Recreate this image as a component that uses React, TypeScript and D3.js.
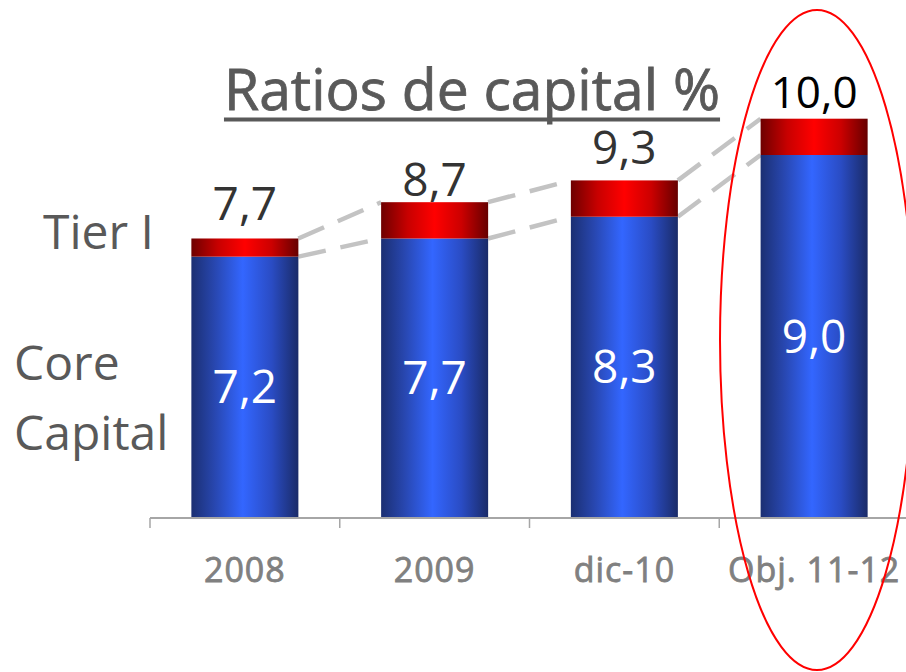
import React, { useLayoutEffect, useRef, useState } from "react";
import * as d3 from "d3";

// ---- data ----
const categories = ["2008", "2009", "dic-10", "Obj. 11-12"];
const coreCapital = [7.2, 7.7, 8.3, 9.0];
const tierOne = [7.7, 8.7, 9.3, 10.0];
// heights at which the bars are drawn in the reference (objective bar drawn taller)
const coreDrawn = [7.2, 7.7, 8.3, 10.0];
const tierDrawn = [7.7, 8.7, 9.3, 11.0];
const coreLabels = ["7,2", "7,7", "8,3", "9,0"];
const tierLabels = ["7,7", "8,7", "9,3", "10,0"];
const titleText = "Ratios de capital %";
const sideLabels = { tier: "Tier I", core: ["Core", "Capital"] };

// ---- layout ----
const W = 906;
const H = 672;
const FONT = "'Open Sans', 'DejaVu Sans', sans-serif";
const topLabelGap = [18, 6, 16, 11];

export default function App() {
  const titleRef = useRef<SVGTextElement>(null);
  const [tw, setTw] = useState(498);
  useLayoutEffect(() => {
    if (titleRef.current) setTw(titleRef.current.getComputedTextLength());
  }, []);

  const x = d3
    .scaleBand<string>()
    .domain(categories)
    .range([150, 909])
    .paddingInner(0.436)
    .paddingOuter(0.218);
  const y = d3.scaleLinear().domain([0, 10]).range([518, 155]);
  const bw = x.bandwidth();
  const step = x.step();
  const axisStart = x.range()[0];
  const ticks = d3.range(categories.length + 1).map((i) => axisStart + i * step);

  const titleX = 472;
  const titleY = 110;

  return (
    <svg
      width={W}
      height={H}
      style={{ position: "absolute", left: 0, top: 0, background: "#fff" }}
      fontFamily={FONT}
    >
      <defs>
        <linearGradient id="blueGrad" x1="0" x2="1" y1="0" y2="0">
          <stop offset="0%" stopColor="#1b2f72" />
          <stop offset="22%" stopColor="#2847b0" />
          <stop offset="48%" stopColor="#3366ff" />
          <stop offset="75%" stopColor="#2a4cc4" />
          <stop offset="100%" stopColor="#1a2b68" />
        </linearGradient>
        <linearGradient id="redGrad" x1="0" x2="1" y1="0" y2="0">
          <stop offset="0%" stopColor="#6e0000" />
          <stop offset="25%" stopColor="#c80000" />
          <stop offset="50%" stopColor="#ff0000" />
          <stop offset="75%" stopColor="#cc0000" />
          <stop offset="100%" stopColor="#660000" />
        </linearGradient>
      </defs>

      {/* title */}
      <text
        ref={titleRef}
        x={titleX}
        y={titleY}
        textAnchor="middle"
        fontSize={57}
        fill="#595959"
        stroke="#595959"
        strokeWidth={0.8}
      >
        {titleText}
      </text>
      <rect x={titleX - tw / 2} y={117.5} width={tw} height={4} fill="#595959" />

      {/* side labels */}
      <text x={43} y={249} fontSize={48} fill="#595959">
        {sideLabels.tier}
      </text>
      {sideLabels.core.map((t, i) => (
        <text key={t} x={14} y={380 + i * 70} fontSize={48} fill="#595959">
          {t}
        </text>
      ))}

      {/* dashed connectors */}
      {categories.slice(0, -1).map((c, i) => {
        const x1 = (x(c) as number) + bw;
        const x2 = x(categories[i + 1]) as number;
        return (
          <g key={"conn" + c} stroke="#c3c3c3" strokeWidth={4.5} strokeDasharray="28 15" fill="none">
            <line x1={x1} y1={y(tierDrawn[i])} x2={x2} y2={y(tierDrawn[i + 1])} />
            <line x1={x1} y1={y(coreDrawn[i])} x2={x2} y2={y(coreDrawn[i + 1])} />
          </g>
        );
      })}

      {/* bars */}
      {categories.map((c, i) => {
        const bx = x(c) as number;
        return (
          <g key={c}>
            <rect x={bx} y={y(coreDrawn[i])} width={bw} height={y(0) - y(coreDrawn[i])} fill="url(#blueGrad)" />
            <rect
              x={bx}
              y={y(tierDrawn[i])}
              width={bw}
              height={y(coreDrawn[i]) - y(tierDrawn[i])}
              fill="url(#redGrad)"
            />
            <text
              x={bx + bw / 2}
              y={(y(coreDrawn[i]) + y(0)) / 2}
              dy="0.35em"
              textAnchor="middle"
              fontSize={46}
              fill="#ffffff"
            >
              {coreLabels[i]}
            </text>
            <text
              x={bx + bw / 2}
              y={y(tierDrawn[i]) - topLabelGap[i]}
              textAnchor="middle"
              fontSize={i === 3 ? 44 : 46}
              fill={i === 3 ? "#000000" : "#333333"}
            >
              {tierLabels[i]}
            </text>
          </g>
        );
      })}

      {/* axis */}
      <line x1={ticks[0]} x2={ticks[ticks.length - 1]} y1={y(0)} y2={y(0)} stroke="#a6a6a6" strokeWidth={2} />
      {ticks.map((t, i) => (
        <line key={"t" + i} x1={t} x2={t} y1={y(0)} y2={y(0) + 10} stroke="#a6a6a6" strokeWidth={1.5} />
      ))}
      {categories.map((c) => (
        <text
          key={"lab" + c}
          x={(x(c) as number) + bw / 2}
          y={582}
          textAnchor="middle"
          fontSize={34}
          fill="#808080"
          stroke="#808080"
          strokeWidth={0.8}
          letterSpacing={1}
        >
          {c}
        </text>
      ))}

      {/* highlight ellipse */}
      <ellipse cx={817} cy={340} rx={97} ry={330} fill="none" stroke="#ff0000" strokeWidth={2} />
    </svg>
  );
}
